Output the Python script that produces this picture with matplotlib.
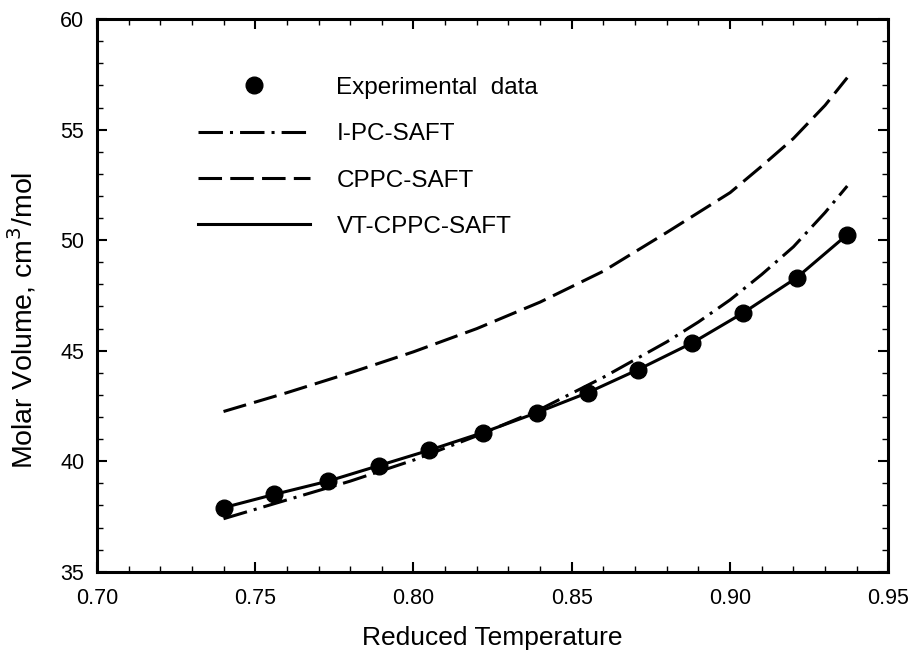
import matplotlib

matplotlib.use("Agg")
import matplotlib.pyplot as plt
from matplotlib.ticker import MultipleLocator

plt.rcParams["font.family"] = ["Liberation Sans", "DejaVu Sans"]

# experimental points (also the VT-CPPC-SAFT curve)
t_exp = [0.740, 0.756, 0.773, 0.789, 0.805, 0.822, 0.839, 0.855, 0.871, 0.888, 0.904, 0.921, 0.937]
v_exp = [37.9, 38.5, 39.1, 39.8, 40.5, 41.3, 42.2, 43.1, 44.15, 45.35, 46.7, 48.3, 50.25]

# model curves
t_model = [0.740, 0.760, 0.780, 0.800, 0.820, 0.840, 0.860, 0.880, 0.890, 0.900, 0.910, 0.920, 0.930, 0.937]
v_ipc = [37.4, 38.25, 39.1, 40.05, 41.15, 42.35, 43.8, 45.4, 46.3, 47.3, 48.45, 49.7, 51.25, 52.45]
v_cppc = [42.25, 43.1, 44.0, 44.95, 46.0, 47.2, 48.6, 50.35, 51.25, 52.15, 53.35, 54.6, 56.1, 57.35]

fig = plt.figure(figsize=(9.14, 6.58), dpi=100)
ax = fig.add_axes([0.106, 0.131, 0.866, 0.840])

exp_h, = ax.plot(t_exp, v_exp, "o", color="black", markersize=12, linestyle="none", zorder=4)
ipc_h, = ax.plot(t_model, v_ipc, color="black", lw=2.2, dashes=(8, 2.3, 1, 2.3))
cppc_h, = ax.plot(t_model, v_cppc, color="black", lw=2.2, dashes=(7.7, 2.7))
vt_h, = ax.plot(t_exp, v_exp, color="black", lw=2.2)

ax.set_xlim(0.70, 0.95)
ax.set_ylim(35, 60)
ax.xaxis.set_major_locator(MultipleLocator(0.05))
ax.xaxis.set_minor_locator(MultipleLocator(0.01))
ax.yaxis.set_major_locator(MultipleLocator(5))
ax.yaxis.set_minor_locator(MultipleLocator(1))
ax.xaxis.set_major_formatter(plt.FormatStrFormatter("%.2f"))

ax.tick_params(which="both", direction="in", top=True, right=True, labelsize=15.5)
ax.tick_params(which="major", length=7, width=1.5)
ax.tick_params(which="minor", length=4, width=1.0)
ax.tick_params(axis="x", which="major", pad=12)
ax.tick_params(axis="y", which="major", pad=9)
for s in ax.spines.values():
    s.set_linewidth(2.2)

ax.set_xlabel("Reduced Temperature", fontsize=19, labelpad=12)
ax.set_ylabel("Molar Volume, cm$^3$/mol", fontsize=20.5)
ax.yaxis.set_label_coords(-0.074, 0.455)

ax.legend(
    [exp_h, ipc_h, cppc_h, vt_h],
    ["Experimental  data", "I-PC-SAFT", "CPPC-SAFT", "VT-CPPC-SAFT"],
    loc="upper left",
    bbox_to_anchor=(0.10, 0.935),
    frameon=False,
    fontsize=17.5,
    handlelength=4.6,
    handletextpad=1.1,
    labelspacing=1.0,
)

fig.savefig("out.png", dpi=100)
